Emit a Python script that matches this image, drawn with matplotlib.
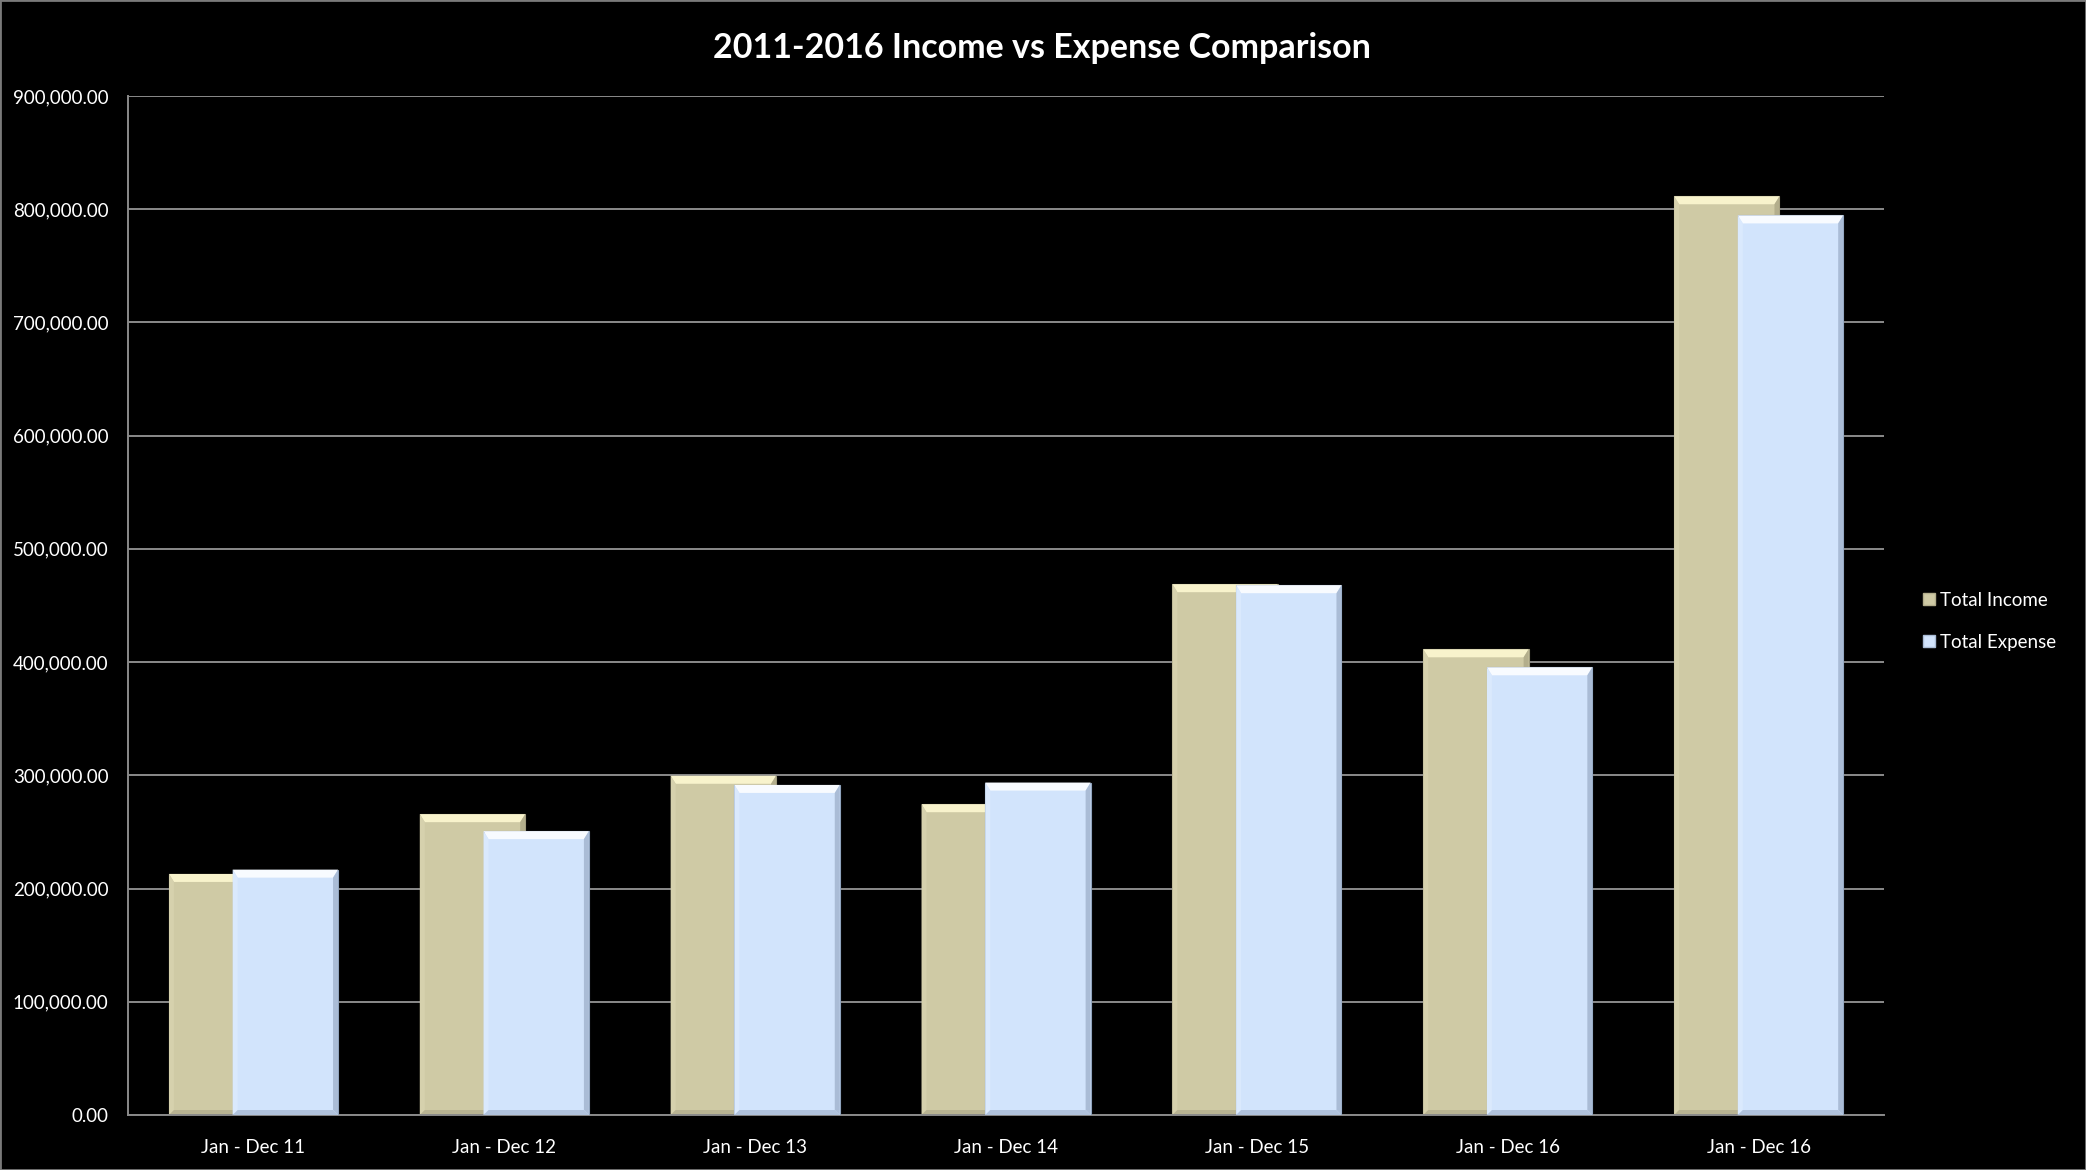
import matplotlib
matplotlib.use("Agg")
import matplotlib.pyplot as plt
from matplotlib.patches import Polygon, Patch, Rectangle
from matplotlib.ticker import FuncFormatter
import numpy as np

categories = ["Jan - Dec 11", "Jan - Dec 12", "Jan - Dec 13", "Jan - Dec 14",
              "Jan - Dec 15", "Jan - Dec 16", "Jan - Dec 16"]
total_income = [212900, 265700, 299600, 274500, 468800, 411300, 811400]
total_expense = [216700, 250700, 291500, 293600, 467900, 395400, 794500]
series_names = ["Total Income", "Total Expense"]
title = "2011-2016 Income vs Expense Comparison"

FONT = ["Lato", "DejaVu Sans"]
plt.rcParams["font.family"] = FONT

income_face = "#cfcaa5"
income_top = "#f8f3cc"
income_side_l = "#d6d1ad"
income_side_r = "#b3ae8c"
income_bot = "#b8b392"
exp_face = "#d2e4fc"
exp_top = "#f8fbff"
exp_side_l = "#dae9fd"
exp_side_r = "#aabcd6"
exp_bot = "#b0c2dc"

fig = plt.figure(figsize=(20.86, 11.70), dpi=100, facecolor="black")
ax = fig.add_axes([0.0614, 0.047, 0.9032 - 0.0614, 0.918 - 0.047])
ax.set_facecolor("black")

x = np.arange(len(categories))
width = 0.42
off = 0.127

ax.set_xlim(-0.5, len(categories) - 0.5)
ax.set_ylim(0, 900000)
ax.set_yticks(np.arange(0, 900001, 100000))
ax.yaxis.set_major_formatter(FuncFormatter(lambda v, p: f"{v:,.2f}"))
ax.set_xticks(x)
ax.set_xticklabels(categories)
ax.tick_params(axis="both", colors="white", labelsize=13.5, length=0)
ax.tick_params(axis="x", pad=17)
ax.tick_params(axis="y", pad=14)
ax.grid(axis="y", color="#8a8a8a", linewidth=1.4)
ax.set_axisbelow(True)
for s in ["top", "right"]:
    ax.spines[s].set_visible(False)
for s in ["left", "bottom"]:
    ax.spines[s].set_color("#8a8a8a")
    ax.spines[s].set_linewidth(1.4)

bars_inc = ax.bar(x - off, total_income, width, color=income_face,
                  edgecolor="#9d997c", linewidth=0.8, zorder=2)
bars_exp = ax.bar(x + off, total_expense, width, color=exp_face,
                  edgecolor="#8fa3bd", linewidth=0.8, zorder=3)


def bevel(bars, top, sl, sr, bot, z):
    b = 8.0
    bs = 5.0
    for r in bars:
        (x0, y0) = ax.transData.transform((r.get_x(), r.get_y()))
        (x1, y1) = ax.transData.transform((r.get_x() + r.get_width(),
                                           r.get_y() + r.get_height()))
        polys = [
            ([(x0, y1), (x1, y1), (x1 - bs, y1 - b), (x0 + bs, y1 - b)], top),
            ([(x0, y0), (x0, y1), (x0 + bs, y1 - b), (x0 + bs, y0 + bs)], sl),
            ([(x1, y0), (x1, y1), (x1 - bs, y1 - b), (x1 - bs, y0 + bs)], sr),
            ([(x0, y0), (x1, y0), (x1 - bs, y0 + bs), (x0 + bs, y0 + bs)], bot),
        ]
        for pts, c in polys:
            p = Polygon(pts, closed=True, facecolor=c, edgecolor="none",
                        transform=None, zorder=z)
            ax.add_artist(p)


bevel(bars_inc, income_top, income_side_l, income_side_r, income_bot, 2.5)
bevel(bars_exp, exp_top, exp_side_l, exp_side_r, exp_bot, 3.5)

fig.text(0.4995, 0.959, title, color="white", fontsize=24.5, fontweight="bold",
         ha="center", va="center", family=FONT)

handles = [Patch(facecolor=income_face, edgecolor=income_side_r, label=series_names[0]),
           Patch(facecolor=exp_face, edgecolor=exp_side_r, label=series_names[1])]
leg = fig.legend(handles=handles, loc="center left", bbox_to_anchor=(0.914, 0.469),
                 frameon=False, fontsize=13.5, labelcolor="white",
                 handlelength=0.6, handleheight=0.6, handletextpad=0.3,
                 labelspacing=1.35)

fig.add_artist(Rectangle((0, 0), 1, 1, transform=fig.transFigure, fill=False,
                         edgecolor="#7a7a7a", linewidth=2))

fig.savefig("out.png", dpi=100, facecolor="black")
